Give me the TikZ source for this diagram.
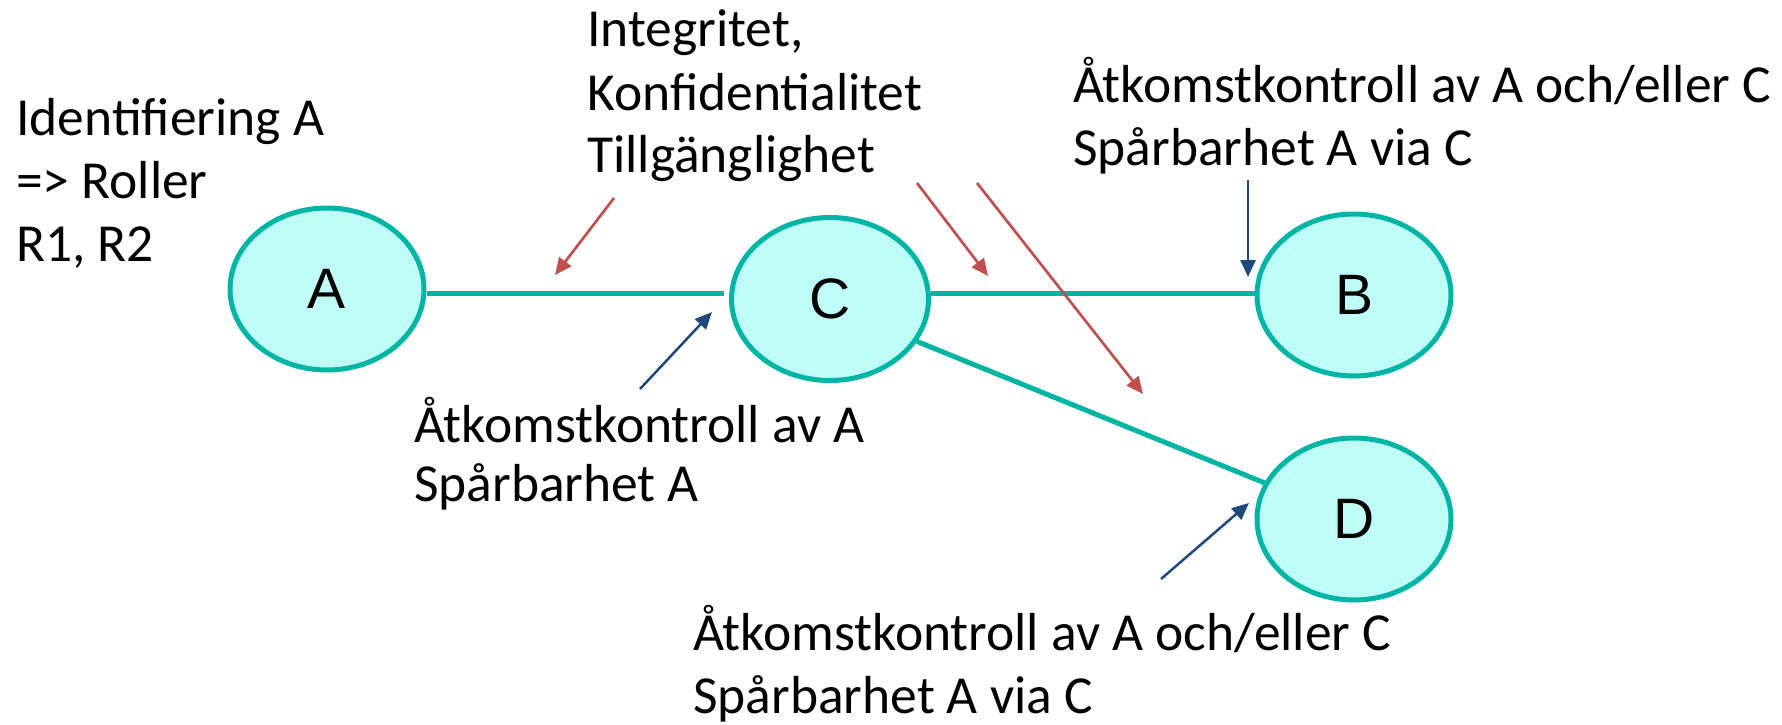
\documentclass[tikz,border=0pt]{standalone}
\usepackage{fontspec}
\setmainfont{Carlito}
\newfontfamily\letterfont{Liberation Sans}
\usetikzlibrary{shapes.geometric,arrows.meta}

\definecolor{tealline}{RGB}{0,181,164}
\definecolor{tealfill}{RGB}{191,254,246}
\definecolor{threatred}{RGB}{192,80,77}
\definecolor{ctrlblue}{RGB}{31,73,125}

\newcommand{\labeltext}[1]{\begin{tabular}[t]{@{}l@{}}#1\end{tabular}}

\begin{document}
\begin{tikzpicture}[x=1pt,y=-1pt,
  party/.style={ellipse,draw=tealline,fill=tealfill,line width=5pt,
    minimum width=194pt,minimum height=162pt,inner sep=0pt,
    font=\letterfont\fontsize{57pt}{68pt}\selectfont},
  link/.style={draw=tealline,line width=5pt},
  threat/.style={draw=threatred,line width=2.7pt,
    -{Triangle[length=17pt,width=15pt]}},
  control/.style={draw=ctrlblue,line width=2.5pt,
    -{Triangle[length=17pt,width=15pt]}},
  lbl/.style={anchor=base west,inner sep=0pt,
    font=\fontsize{53.5pt}{63pt}\selectfont}
]
\useasboundingbox (0,0) rectangle (1782,725);

% horizontal rail of the A--C--B connection
\coordinate (rail) at (0,293);

% parties
\node[party] (A) at (327,289) {A};
\node[party,minimum width=197pt,minimum height=163pt] (C) at (830,299) {C};
\node[party] (B) at (1354,295) {B};
\node[party] (D) at (1354,519) {D};

% connections
\draw[link] (A.east |- rail) -- ([xshift=-5pt]C.west |- rail);
\draw[link] (C.east |- rail) -- (B.west |- rail);
\draw[link] (C.-26) -- (D.158);

% labels
\node[lbl] (idA) at (16,135) {\labeltext{Identifiering A\\=> Roller\\R1, R2}};
\node[lbl] (ikt) at (587,47) {\labeltext{Integritet,\\Konfidentialitet\\Tillgänglighet}};
\node[lbl] (accB) at (1073,102) {\labeltext{Åtkomstkontroll av A och/eller C\\Spårbarhet A via C}};
\node[lbl,font=\fontsize{53.5pt}{59pt}\selectfont] (accC) at (414,442) {\labeltext{Åtkomstkontroll av A\\Spårbarhet A}};
\node[lbl] (accD) at (693,650) {\labeltext{Åtkomstkontroll av A och/eller C\\Spårbarhet A via C}};

% arrow end points
\coordinate (t1s) at (614,198);  \coordinate (t1e) at (555,275);
\coordinate (t2s) at (917,183);  \coordinate (t2e) at (988,276);
\coordinate (t3s) at (977,183);  \coordinate (t3e) at (1143,394);
\coordinate (c1s) at (640,389);  \coordinate (c1e) at (712,312);
\coordinate (c2s) at (1248,180); \coordinate (c2e) at (1248,277);
\coordinate (c3s) at (1161,579); \coordinate (c3e) at (1249,503);

% threats to the transfer
\draw[threat] (t1s) -- (t1e);
\draw[threat] (t2s) -- (t2e);
\draw[threat] (t3s) -- (t3e);

% access controls
\draw[control] (c1s) -- (c1e);
\draw[control] (c2s) -- (c2e);
\draw[control] (c3s) -- (c3e);
\end{tikzpicture}
\end{document}
